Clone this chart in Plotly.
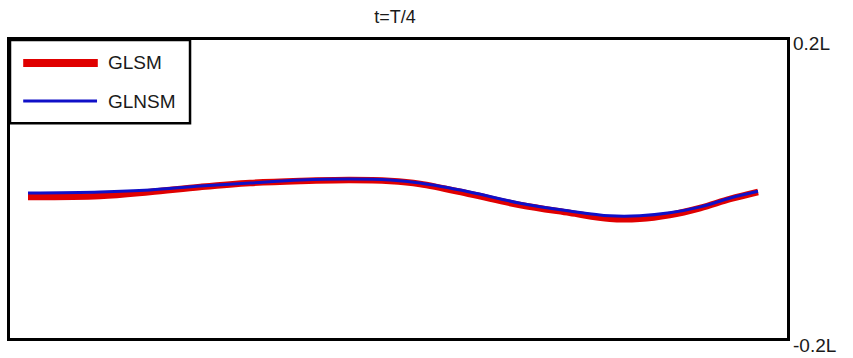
import plotly.graph_objects as go

# Positions along the beam (fraction of length)
x_pos = [0.0, 0.0986, 0.167, 0.236, 0.304, 0.373, 0.441, 0.496, 0.537, 0.605,
         0.674, 0.742, 0.797, 0.838, 0.879, 0.921, 0.962, 1.0]
# Deflection (units of L)
glsm = [-0.0107, -0.0094, -0.004, 0.0027, 0.008, 0.0107, 0.012, 0.0107, 0.0067, -0.0067,
        -0.0215, -0.032, -0.040, -0.040, -0.0349, -0.0255, -0.0134, -0.004]
glnsm = [-0.0054, -0.004, -0.0013, 0.004, 0.008, 0.012, 0.0134, 0.012, 0.008, -0.004,
         -0.019, -0.0295, -0.036, -0.036, -0.032, -0.024, -0.012, -0.003]

series_names = ["GLSM", "GLNSM"]
y_ticks = [0.2, -0.2]
y_tick_labels = ["0.2L", "-0.2L"]
title_text = "t=T/4"

RED = "#e00000"
BLUE = "#1010c8"
FONT = "Liberation Sans, Arial, sans-serif"
TXT = "#1a1a1a"

fig = go.Figure()
fig.add_trace(go.Scatter(x=x_pos, y=glsm, mode="lines", name=series_names[0],
                         line=dict(color=RED, width=6.5, shape="spline"), showlegend=False))
fig.add_trace(go.Scatter(x=x_pos, y=glnsm, mode="lines", name=series_names[1],
                         line=dict(color=BLUE, width=3, shape="spline"), showlegend=False))

# Manual legend box
fig.add_shape(type="rect", xref="paper", yref="paper", x0=0, x1=0.2317, y0=0.721, y1=1.0,
              line=dict(color="black", width=2.5), fillcolor="white", layer="above")
fig.add_shape(type="line", xref="paper", yref="paper", x0=0.017, x1=0.113, y0=0.923, y1=0.923,
              line=dict(color=RED, width=8), layer="above")
fig.add_shape(type="line", xref="paper", yref="paper", x0=0.017, x1=0.112, y0=0.795, y1=0.795,
              line=dict(color=BLUE, width=3), layer="above")
for yy, name in zip([0.923, 0.795], series_names):
    fig.add_annotation(xref="paper", yref="paper", x=0.124, y=yy, text=name, showarrow=False,
                       xanchor="left", yanchor="middle", font=dict(family=FONT, size=19, color=TXT))

# Right-side tick labels
for v, t, ys in zip(y_ticks, y_tick_labels, [-3, -7]):
    fig.add_annotation(xref="paper", yref="y", x=1.0, y=v, text=t, showarrow=False,
                       xanchor="left", yanchor="middle", xshift=4, yshift=ys,
                       font=dict(family=FONT, size=19, color=TXT))

fig.update_layout(
    width=853, height=358,
    margin=dict(l=10, r=66, t=40, b=20),
    paper_bgcolor="white", plot_bgcolor="white",
    title=dict(text=title_text, x=0.463, xanchor="center", y=0.953, yanchor="middle",
               font=dict(family=FONT, size=18, color=TXT)),
    xaxis=dict(range=[-0.0247, 1.0397], showgrid=False, zeroline=False, showticklabels=False,
               ticks="", showline=True, linecolor="black", linewidth=2.5, mirror=True),
    yaxis=dict(range=[-0.2, 0.2], showgrid=False, zeroline=False, showticklabels=False,
               ticks="", showline=True, linecolor="black", linewidth=2.5, mirror=True),
)

fig.write_html("out.html")
